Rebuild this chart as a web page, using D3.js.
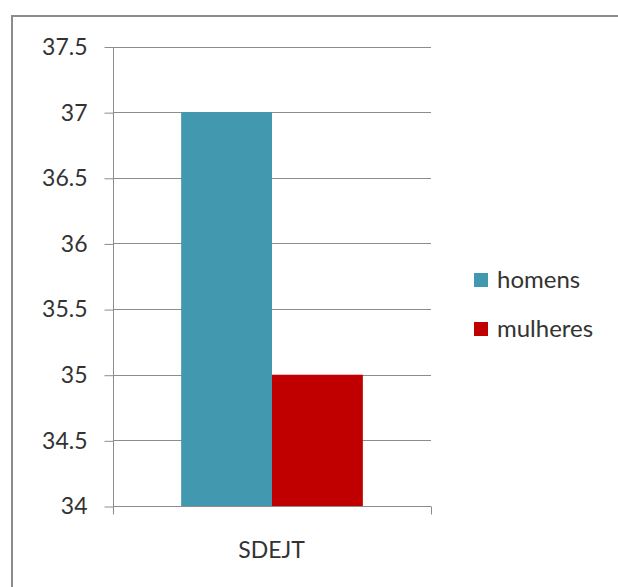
<!DOCTYPE html>
<html><head><meta charset="utf-8">
<script src="https://cdn.jsdelivr.net/npm/d3@7"></script>
<style>body{margin:0;background:#fff}svg{display:block}text{font-family:Lato,"Open Sans",sans-serif;fill:#333}</style>
</head><body>
<script>
const categories = ["SDEJT"];
const seriesNames = ["homens", "mulheres"];
const homens = [37];
const mulheres = [35];
const yTicks = [34, 34.5, 35, 35.5, 36, 36.5, 37, 37.5];
const colors = ["#4198AF", "#C00000"];

const W = 618, H = 587;
const svg = d3.select("body").append("svg").attr("width", W).attr("height", H);

// frame
svg.append("rect").attr("x", 12).attr("y", 16).attr("width", 620).attr("height", 600)
  .attr("fill", "none").attr("stroke", "#8c8c8c").attr("stroke-width", 2);

const plot = {left: 113, right: 431, top: 46.5, bottom: 506};
const y = d3.scaleLinear().domain([34, 37.5]).range([plot.bottom, plot.top]);
const x = d3.scaleBand().domain(categories).range([plot.left, plot.right]).paddingInner(0).paddingOuter(0);
const inner = d3.scaleBand().domain(seriesNames).range([0, x.bandwidth()]).paddingOuter(0.75).paddingInner(0);

// gridlines
svg.append("g").selectAll("line").data(yTicks.filter(d => d > 34)).join("line")
  .attr("x1", plot.left).attr("x2", plot.right)
  .attr("y1", d => Math.round(y(d)) + 0.5).attr("y2", d => Math.round(y(d)) + 0.5)
  .attr("stroke", "#8c8c8c").attr("stroke-width", 1);

// bars
const seriesVals = [homens, mulheres];
seriesNames.forEach((s, si) => {
  svg.append("g").selectAll("rect").data(categories).join("rect")
    .attr("x", d => x(d) + inner(s))
    .attr("width", inner.bandwidth())
    .attr("y", (d, i) => y(seriesVals[si][i]))
    .attr("height", (d, i) => plot.bottom - y(seriesVals[si][i]))
    .attr("fill", colors[si]);
});

// y axis
const yAxis = d3.axisLeft(y).tickValues(yTicks).tickSize(9).tickPadding(17)
  .tickFormat(d => String(d));
const gy = svg.append("g").attr("transform", `translate(${plot.left + 0.5},0.5)`).call(yAxis);
gy.select(".domain").attr("stroke", "#8c8c8c").attr("d", `M0,${plot.top}V${plot.bottom}`);
gy.selectAll(".tick line").attr("stroke", "#8c8c8c");
gy.selectAll(".tick text").attr("font-size", 23).attr("fill", "#333").attr("font-family", "Lato");

// x axis
const gx = svg.append("g").attr("transform", `translate(0,${plot.bottom + 0.5})`);
gx.append("line").attr("x1", plot.left).attr("x2", plot.right).attr("stroke", "#8c8c8c");
gx.selectAll("line.t").data([plot.left, plot.right]).join("line").attr("class", "t")
  .attr("x1", d => d + 0.5).attr("x2", d => d + 0.5).attr("y1", 0).attr("y2", 8).attr("stroke", "#8c8c8c");
gx.selectAll("text").data(categories).join("text")
  .attr("x", d => x(d) + x.bandwidth() / 2 - 0.5).attr("y", 51)
  .attr("text-anchor", "middle").attr("font-size", 23).text(d => d);

// legend
const leg = svg.append("g");
seriesNames.forEach((s, i) => {
  const cy = 280 + i * 49;
  leg.append("rect").attr("x", 474).attr("y", cy - 7).attr("width", 14).attr("height", 14).attr("fill", colors[i]);
  leg.append("text").attr("x", 497).attr("y", cy + 8).attr("font-size", 24).text(s);
});
</script>
</body></html>
